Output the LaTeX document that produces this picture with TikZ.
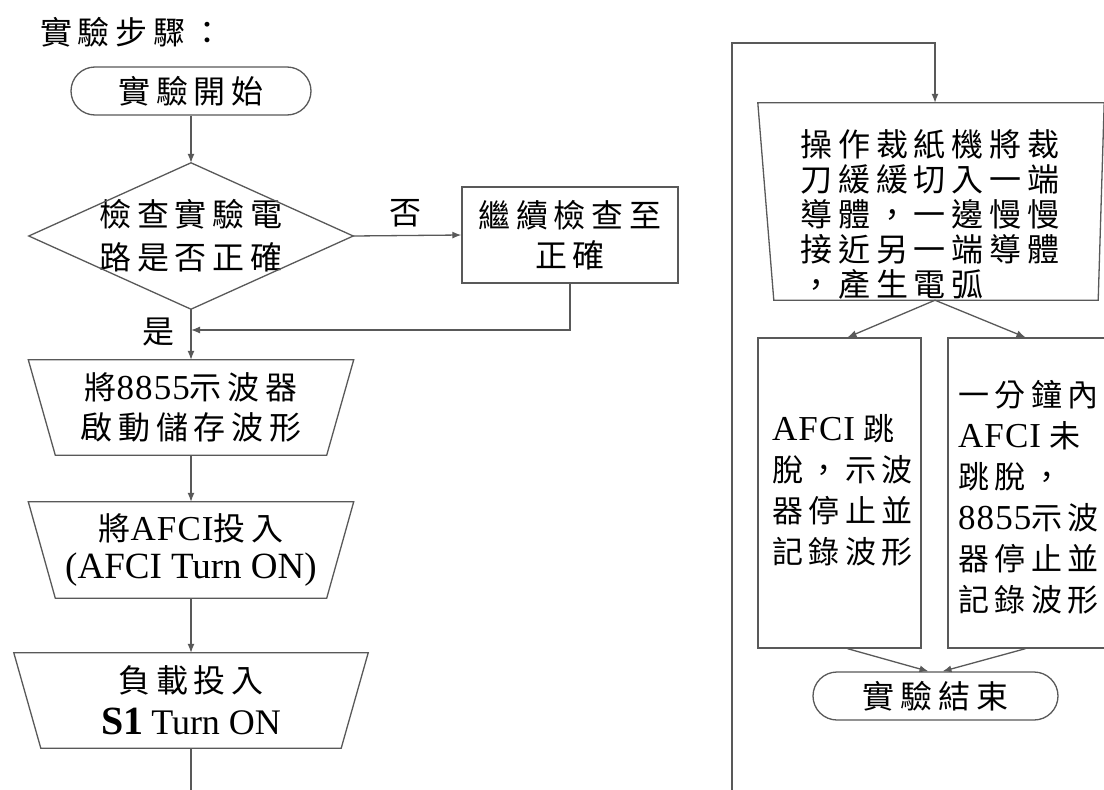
\documentclass[tikz,border=0pt]{standalone}
\usepackage{fontspec}
\setmainfont{Liberation Serif}
\newfontfamily\cjkf[LetterSpace=18]{Noto Sans CJK TC}
\newfontfamily\latf[LetterSpace=3]{Liberation Serif}
\newcommand\zhs[1]{{\cjkf #1}}
\newcommand\ens[1]{{\latf\fontsize{35}{40}\selectfont #1}}
\usetikzlibrary{arrows.meta,calc}
\begin{document}
\begin{tikzpicture}[x=1pt,y=-1pt,
  conn/.style={draw=black!65, line width=1.3pt},
  arr/.style={conn, -{Latex[length=9pt,width=7pt]}},
  shp/.style={inner sep=0pt, align=center, font=\fontsize{32}{40}\selectfont},
  outline/.style={conn},
  termnode/.style={shp, draw=black!65, line width=1.3pt, rounded corners=24pt, minimum height=48pt},
  lbl/.style={inner sep=0pt, font=\fontsize{32}{36}\selectfont},
  txtblock/.style={inner sep=0pt, align=left}
]
\fill[white] (0,0) rectangle (1104,790);
\useasboundingbox (0,0) rectangle (1104,790);
\clip (0,0) rectangle (1104,790);

% title
\node[lbl, anchor=west] (title) at (40,32) {\zhs{實驗步驟：}};

% left column
\node[termnode, minimum width=240pt] (start) at (191,91) {\zhs{實驗開始}};
\node[shp, minimum width=324pt, minimum height=142pt, font=\fontsize{32}{43}\selectfont] (dia) at (191,236) {\zhs{檢查實驗電}\\\zhs{路是否正確}};
\draw[outline] ([yshift=2pt]dia.north) -- (dia.east) -- ([yshift=-2pt]dia.south) -- (dia.west) -- cycle;

\node[shp, draw=black!65, line width=1.3pt, minimum width=216pt, minimum height=96pt] (chk) at (570,235) {\zhs{繼續檢查至}\\\zhs{正確}};
\node[lbl] (no) at (405,213) {\zhs{否}};
\node[lbl] (yes) at (158,332) {\zhs{是}};

\node[shp, minimum width=325pt, minimum height=95pt] (t1) at (191,407.5) {\zhs{將}\ens{8855}\zhs{示波器}\\\zhs{啟動儲存波形}};
\draw[outline] (t1.north west) -- (t1.north east) -- ([xshift=-27pt]t1.south east) -- ([xshift=27pt]t1.south west) -- cycle;

\node[shp, minimum width=325pt, minimum height=96pt, font=\fontsize{32}{38}\selectfont] (t2) at (191,550) {\zhs{將}\ens{AFCI}\zhs{投入}\\{\fontsize{37}{38}\selectfont (AFCI Turn ON)}};
\draw[outline] (t2.north west) -- (t2.north east) -- ([xshift=-27pt]t2.south east) -- ([xshift=27pt]t2.south west) -- cycle;

\node[shp, minimum width=354pt, minimum height=95pt, font=\fontsize{32}{42}\selectfont] (t3) at (191,700.5) {\zhs{負載投入}\\{\fontsize{40}{42}\selectfont\bfseries S1} {\fontsize{36}{42}\selectfont Turn ON}};
\draw[outline] (t3.north west) -- (t3.north east) -- ([xshift=-27pt]t3.south east) -- ([xshift=27pt]t3.south west) -- cycle;

\coordinate (j) at (191,330);
\coordinate (lend) at (191,800);
\draw[arr] (start) -- ([yshift=2pt]dia.north);
\draw[arr] (dia.east) -- (chk.west);
\draw[arr] (chk.south) |- (j);
\draw[arr] ([yshift=-2pt]dia.south) -- (t1.north);
\draw[arr] (t1.south) -- (t2.north);
\draw[arr] (t2.south) -- (t3.north);
\draw[conn] (t3.south) -- (lend);

% right column
\node[shp, minimum width=346pt, minimum height=197pt] (man) at (931,201.5) {};
\draw[outline] (man.north west) -- (man.north east) -- ([xshift=-6pt]man.south east) -- ([xshift=16pt]man.south west) -- cycle;
\node[txtblock, font=\fontsize{32}{35}\selectfont] (manT) at (930,214) {\zhs{操作裁紙機將裁}\\\zhs{刀緩緩切入一端}\\\zhs{導體，一邊慢慢}\\\zhs{接近另一端導體}\\\zhs{，產生電弧}};

\coordinate (rbot) at (732,800);
\coordinate (rtop) at (935,43);
\draw[arr] (rbot) |- (rtop) -- (rtop |- man.north);

\node[shp, draw=black!65, line width=1.3pt, minimum width=163pt, minimum height=310pt] (lb) at (839.5,493) {};
\node[txtblock, anchor=west, font=\fontsize{31}{41}\selectfont] (lbT) at (772,490) {\ens{AFCI}\hspace{8pt}\zhs{跳}\\\zhs{脫，示波}\\\zhs{器停止並}\\\zhs{記錄波形}};

\node[shp, draw=black!65, line width=1.3pt, minimum width=163pt, minimum height=310pt] (rb) at (1029.5,493) {};
\node[txtblock, anchor=west, font=\fontsize{31}{41}\selectfont] (rbT) at (958,497) {\zhs{一分鐘內}\\\ens{AFCI}\hspace{8pt}\zhs{未}\\\zhs{跳脫，}\\\ens{8855}\zhs{示波}\\\zhs{器停止並}\\\zhs{記錄波形}};

\node[termnode, minimum width=245pt] (end) at (935.5,696) {\zhs{實驗結束}};

\draw[arr] ([xshift=4pt]man.south) -- ([xshift=8pt]lb.north);
\draw[arr] ([xshift=4pt]man.south) -- ([xshift=-4pt]rb.north);
\draw[arr] ([xshift=8pt]lb.south) -- ([xshift=-7pt]end.north);
\draw[arr] ([xshift=-4pt]rb.south) -- ([xshift=7pt]end.north);
\end{tikzpicture}
\end{document}
